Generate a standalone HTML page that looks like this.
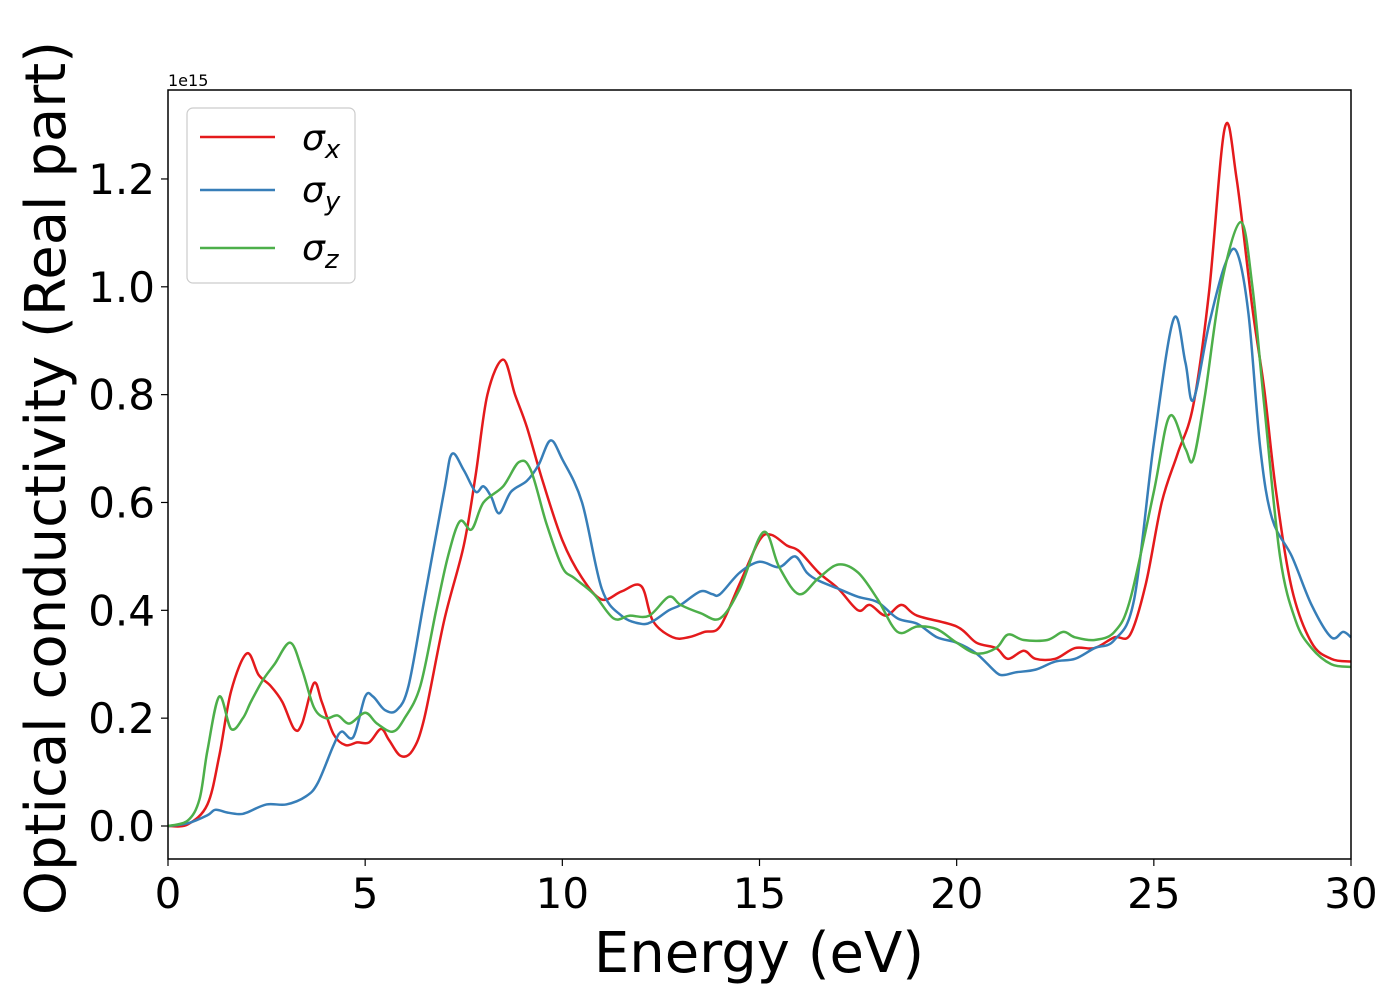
<!DOCTYPE html>
<html><head><meta charset="utf-8"><style>
body{margin:0;background:#fff;}
svg{display:block;font-family:"DejaVu Sans","Liberation Sans",sans-serif;}
</style></head><body>
<svg id="chart" width="1400" height="1000" xmlns="http://www.w3.org/2000/svg">
<g id="ticks"></g>
<g id="series"></g>
<rect x="168" y="90" width="1183" height="769" fill="none" stroke="#000" stroke-width="1.5"/>
<text x="168" y="86" font-size="16">1e15</text>
<text x="759" y="972" font-size="56" text-anchor="middle">Energy (eV)</text>
<text transform="translate(65,478) rotate(-90)" font-size="56" text-anchor="middle">Optical conductivity (Real part)</text>
<g>
<rect x="187" y="108" width="168" height="175" rx="6" fill="#fff" stroke="#ccc" stroke-width="1.2"/>
<line x1="200" y1="137" x2="275" y2="137" stroke="#e41a1c" stroke-width="2.5"/>
<line x1="200" y1="190" x2="275" y2="190" stroke="#377eb8" stroke-width="2.5"/>
<line x1="200" y1="248" x2="275" y2="248" stroke="#4daf4a" stroke-width="2.5"/>
<text x="302" y="150" font-size="36" font-style="italic">σ<tspan font-size="26" dy="8">x</tspan></text>
<text x="302" y="202" font-size="36" font-style="italic">σ<tspan font-size="26" dy="8">y</tspan></text>
<text x="302" y="260" font-size="36" font-style="italic">σ<tspan font-size="26" dy="8">z</tspan></text>
</g>
</svg>
<script>
const xTicks=[0,5,10,15,20,25,30];
const yTicks=[0.0,0.2,0.4,0.6,0.8,1.0,1.2];
const sxE=[0,0.5,1,1.3,1.6,2.0,2.3,2.6,2.9,3.2,3.4,3.7,3.9,4.2,4.5,4.8,5.1,5.4,5.6,5.9,6.2,6.5,7.0,7.5,7.8,8.1,8.5,8.8,9.1,9.5,10,10.5,11,11.5,12,12.3,12.8,13.2,13.6,14,14.5,15,15.3,15.7,16,16.5,17,17.5,17.8,18.2,18.6,19,20,20.5,21,21.3,21.7,22,22.5,23,23.5,24,24.4,24.8,25.2,25.6,26,26.4,26.8,27.1,27.5,27.8,28.1,28.5,29,29.5,30];
const sxV=[0,0.003,0.04,0.13,0.25,0.32,0.28,0.26,0.23,0.18,0.19,0.265,0.23,0.17,0.15,0.155,0.155,0.18,0.16,0.13,0.14,0.2,0.38,0.52,0.65,0.8,0.865,0.8,0.74,0.64,0.53,0.46,0.42,0.435,0.445,0.38,0.35,0.35,0.36,0.37,0.45,0.53,0.54,0.52,0.51,0.47,0.44,0.40,0.41,0.39,0.41,0.39,0.37,0.34,0.33,0.31,0.325,0.31,0.31,0.33,0.33,0.35,0.355,0.45,0.6,0.69,0.78,0.99,1.295,1.2,0.96,0.81,0.62,0.44,0.34,0.31,0.305];
const syE=[0,0.5,1,1.2,1.5,1.8,2,2.5,3,3.5,3.8,4.2,4.4,4.7,5,5.2,5.5,5.8,6.1,6.5,7,7.2,7.5,7.8,8,8.2,8.4,8.7,9.1,9.4,9.7,10,10.5,11,11.5,12,12.3,12.7,13,13.5,13.8,14,14.5,15,15.5,15.9,16.2,16.5,17,17.5,18,18.5,19,19.5,20,20.5,21,21.2,21.5,22,22.5,23,23.5,24,24.5,25,25.5,25.8,26,26.4,26.8,27.1,27.4,27.7,28,28.5,29,29.5,29.8,30];
const syV=[0,0.005,0.02,0.03,0.025,0.022,0.025,0.04,0.04,0.055,0.08,0.15,0.175,0.165,0.24,0.24,0.215,0.215,0.26,0.42,0.62,0.69,0.66,0.62,0.63,0.61,0.58,0.62,0.64,0.67,0.715,0.68,0.6,0.44,0.39,0.375,0.38,0.4,0.41,0.435,0.43,0.43,0.47,0.49,0.48,0.5,0.47,0.455,0.44,0.425,0.415,0.385,0.375,0.35,0.34,0.32,0.285,0.28,0.285,0.29,0.305,0.31,0.33,0.345,0.42,0.71,0.94,0.86,0.79,0.93,1.04,1.065,0.95,0.7,0.57,0.5,0.41,0.35,0.36,0.35];
const szE=[0,0.5,0.8,1.0,1.3,1.6,1.9,2.1,2.4,2.7,3.1,3.4,3.7,4.0,4.3,4.6,5,5.3,5.7,6,6.4,6.8,7.1,7.4,7.7,8,8.5,8.9,9.2,9.6,10,10.3,10.8,11.3,11.7,12.2,12.7,13,13.5,14,14.5,15.1,15.5,16,16.5,17,17.5,18,18.5,19,19.5,20,20.5,21,21.3,21.7,22.3,22.7,23,23.5,24,24.4,25,25.4,25.8,26,26.3,26.7,27.2,27.5,27.8,28.2,28.6,29,29.5,30];
const szV=[0,0.01,0.05,0.14,0.24,0.18,0.2,0.23,0.27,0.3,0.34,0.29,0.22,0.2,0.205,0.19,0.21,0.19,0.175,0.2,0.26,0.4,0.5,0.565,0.55,0.6,0.63,0.675,0.66,0.56,0.48,0.46,0.43,0.385,0.39,0.39,0.425,0.41,0.395,0.385,0.44,0.545,0.48,0.43,0.46,0.485,0.47,0.42,0.36,0.37,0.365,0.34,0.32,0.33,0.355,0.345,0.345,0.36,0.35,0.345,0.36,0.42,0.62,0.76,0.7,0.68,0.8,1.0,1.12,1.0,0.78,0.5,0.38,0.33,0.30,0.295];

const X0=168,X1=1351,Y0=826,PPU=539.2;
const xs=v=>X0+(v/30)*(X1-X0);
const ys=v=>Y0-v*PPU;
const NS='http://www.w3.org/2000/svg';
const tg=document.getElementById('ticks');
xTicks.forEach(t=>{
  const l=document.createElementNS(NS,'line');
  
  
  l.setAttribute('x1',xs(t));l.setAttribute('x2',xs(t));l.setAttribute('y1',859);l.setAttribute('y2',866);l.setAttribute('stroke','#000');l.setAttribute('stroke-width','1.2');
  tg.appendChild(l);
  const tx=document.createElementNS(NS,'text');
  
  
  tx.setAttribute('x',xs(t));tx.setAttribute('y',908);tx.setAttribute('font-size','42');tx.setAttribute('text-anchor','middle');
  tx.textContent=t;tg.appendChild(tx);
});
yTicks.forEach(t=>{
  const l=document.createElementNS(NS,'line');
  
  
  l.setAttribute('x1',161);l.setAttribute('x2',168);l.setAttribute('y1',ys(t));l.setAttribute('y2',ys(t));l.setAttribute('stroke','#000');l.setAttribute('stroke-width','1.2');
  tg.appendChild(l);
  const tx=document.createElementNS(NS,'text');
  
  
  tx.setAttribute('x',155);tx.setAttribute('y',ys(t)+15);tx.setAttribute('font-size','42');tx.setAttribute('text-anchor','end');
  tx.textContent=t.toFixed(1);tg.appendChild(tx);
});
function smooth(E,V){
  const p=E.map((e,i)=>[xs(e),ys(V[i])]);
  let d='M'+p[0][0]+','+p[0][1];
  for(let i=0;i<p.length-1;i++){
    const a=p[Math.max(0,i-1)],b=p[i],c=p[i+1],e=p[Math.min(p.length-1,i+2)];
    const c1=[b[0]+(c[0]-a[0])/6,b[1]+(c[1]-a[1])/6];
    const c2=[c[0]-(e[0]-b[0])/6,c[1]-(e[1]-b[1])/6];
    d+=' C'+c1[0]+','+c1[1]+' '+c2[0]+','+c2[1]+' '+c[0]+','+c[1];
  }
  return d;
}
const sg=document.getElementById('series');
[[sxE,sxV,'#e41a1c','sigma-x-line'],[syE,syV,'#377eb8','sigma-y-line'],[szE,szV,'#4daf4a','sigma-z-line']].forEach(s=>{
  const p=document.createElementNS(NS,'path');
  
  
  p.setAttribute('d',smooth(s[0],s[1]));p.setAttribute('fill','none');p.setAttribute('stroke',s[2]);p.setAttribute('stroke-width','2.5');
  sg.appendChild(p);
});
</script>
</body></html>
